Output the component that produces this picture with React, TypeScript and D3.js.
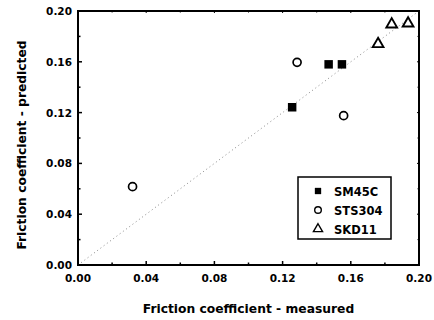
import React from "react";
import * as d3 from "d3";

const sm45cX = [0.1256, 0.147, 0.1548];
const sm45cY = [0.1242, 0.158, 0.158];
const sts304X = [0.032, 0.1285, 0.1558];
const sts304Y = [0.0617, 0.1596, 0.1176];
const skd11X = [0.176, 0.184, 0.1936];
const skd11Y = [0.174, 0.1895, 0.1902];
const tickValues = [0, 0.04, 0.08, 0.12, 0.16, 0.2];
const minorTicks = [0.02, 0.06, 0.1, 0.14, 0.18];
const legendLabels = ["SM45C", "STS304", "SKD11"];

const W = 434, H = 320;
const L = 78, R = 419, T = 11, B = 265;
const font = "'DejaVu Sans', sans-serif";

export default function App() {
  const x = d3.scaleLinear().domain([0, 0.2]).range([L, R]);
  const y = d3.scaleLinear().domain([0, 0.2]).range([B, T]);
  const sq = d3.symbol().type(d3.symbolSquare).size(72)();
  const tri = d3.symbol().type(d3.symbolTriangle).size(50)();
  const sm = sm45cX.map((v, i) => [v, sm45cY[i]]);
  const st = sts304X.map((v, i) => [v, sts304Y[i]]);
  const sk = skd11X.map((v, i) => [v, skd11Y[i]]);
  const legendY = [191, 210, 229];
  return (
    <svg width={W} height={H} style={{ position: "absolute", left: 0, top: 0, background: "#fff" }}>
      <line x1={x(0)} y1={y(0)} x2={x(0.2)} y2={y(0.2)} stroke="#888" strokeWidth={1} strokeDasharray="1,3" />
      {tickValues.map((t) => (
        <g key={"t" + t}>
          <line x1={x(t)} x2={x(t)} y1={B} y2={B - 4} stroke="#000" strokeWidth={1.5} />
          <line x1={L} x2={L + 4} y1={y(t)} y2={y(t)} stroke="#000" strokeWidth={1.5} />
          <line x1={x(t)} x2={x(t)} y1={T} y2={T + 2} stroke="#000" strokeWidth={1} />
          <line x1={R} x2={R - 2} y1={y(t)} y2={y(t)} stroke="#000" strokeWidth={1} />
          <text x={x(t)} y={B + 17} textAnchor="middle" fontFamily={font} fontWeight="bold" fontSize={10.5}>{t.toFixed(2)}</text>
          <text x={L - 6} y={y(t) + 4} textAnchor="end" fontFamily={font} fontWeight="bold" fontSize={10.5}>{t.toFixed(2)}</text>
        </g>
      ))}
      {minorTicks.map((t) => (
        <g key={"m" + t}>
          <line x1={x(t)} x2={x(t)} y1={B} y2={B - 2.5} stroke="#000" strokeWidth={1.5} />
          <line x1={L} x2={L + 2.5} y1={y(t)} y2={y(t)} stroke="#000" strokeWidth={1.5} />
          <line x1={x(t)} x2={x(t)} y1={T} y2={T + 1.5} stroke="#000" strokeWidth={1} />
          <line x1={R} x2={R - 1.5} y1={y(t)} y2={y(t)} stroke="#000" strokeWidth={1} />
        </g>
      ))}
      <rect x={L} y={T} width={R - L} height={B - T} fill="none" stroke="#000" strokeWidth={2} />
      {sm.map((d, i) => (
        <path key={"s" + i} d={sq} transform={`translate(${x(d[0])},${y(d[1])})`} fill="#000" />
      ))}
      {st.map((d, i) => (
        <circle key={"c" + i} cx={x(d[0])} cy={y(d[1])} r={4} fill="#fff" stroke="#000" strokeWidth={1.7} />
      ))}
      {sk.map((d, i) => (
        <path key={"k" + i} d={tri} transform={`translate(${x(d[0])},${y(d[1])})`} fill="#fff" stroke="#000" strokeWidth={1.9} />
      ))}
      <rect x={298} y={177} width={93} height={62} fill="#fff" stroke="#000" strokeWidth={1.5} />
      <path d={d3.symbol().type(d3.symbolSquare).size(40)()} transform={`translate(318,${legendY[0]})`} fill="#000" />
      <circle cx={318} cy={legendY[1]} r={3.3} fill="#fff" stroke="#000" strokeWidth={1.4} />
      <path d={d3.symbol().type(d3.symbolTriangle).size(36)()} transform={`translate(318,${legendY[2]})`} fill="#fff" stroke="#000" strokeWidth={1.4} />
      {legendLabels.map((l, i) => (
        <text key={l} x={334} y={legendY[i] + 4.5} fontFamily={font} fontWeight="bold" fontSize={11.5}>{l}</text>
      ))}
      <text x={(L + R) / 2} y={313} textAnchor="middle" fontFamily={font} fontWeight="bold" fontSize={12.3}>Friction coefficient - measured</text>
      <text transform={`translate(26,145) rotate(-90)`} textAnchor="middle" fontFamily={font} fontWeight="bold" fontSize={12.3}>Friction coefficient - predicted</text>
    </svg>
  );
}
